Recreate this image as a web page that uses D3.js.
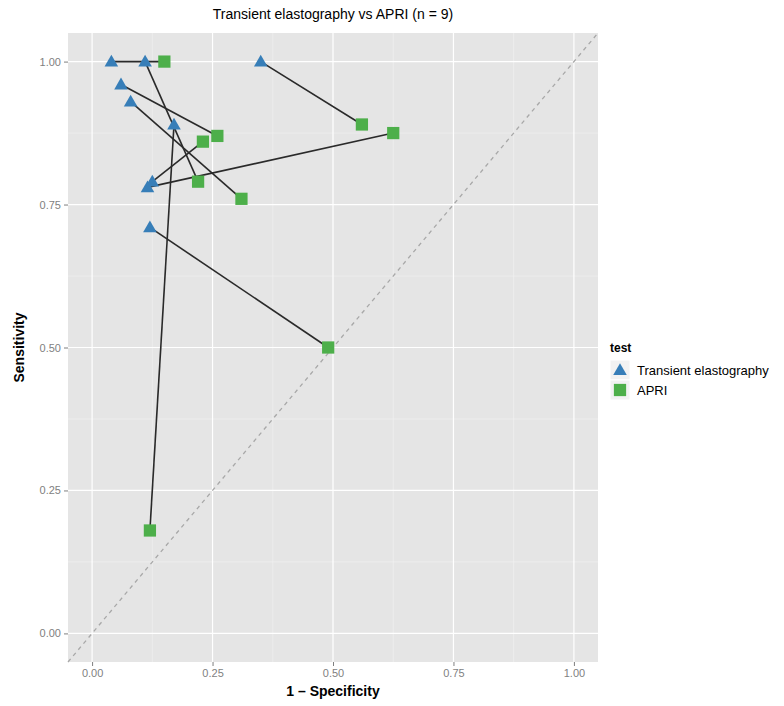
<!DOCTYPE html>
<html>
<head>
<meta charset="utf-8">
<script src="https://cdn.jsdelivr.net/npm/d3@7"></script>
<style>
  body { margin: 0; background: #fff; }
  text { font-family: "Liberation Sans", Arial, sans-serif; }
</style>
</head>
<body>
<script>
// one row per study: transient elastography (TE) and APRI, as 1 - specificity / sensitivity
const teFpr = [0.04, 0.11, 0.35, 0.06, 0.08, 0.17, 0.115, 0.125, 0.12];
const teSens = [1.00, 1.00, 1.00, 0.96, 0.93, 0.89, 0.78, 0.79, 0.71];
const apriFpr = [0.15, 0.22, 0.56, 0.26, 0.31, 0.12, 0.625, 0.23, 0.49];
const apriSens = [1.00, 0.79, 0.89, 0.87, 0.76, 0.18, 0.875, 0.86, 0.50];
const tests = ['Transient elastography', 'APRI'];
const ticks = [0, 0.25, 0.5, 0.75, 1];
const minorTicks = [0.125, 0.375, 0.625, 0.875];

const W = 784, H = 706;
const panel = { left: 68, right: 598, top: 33, bottom: 662 };
const colors = { 'Transient elastography': '#377EB8', 'APRI': '#4DAF4A' };

const svg = d3.select('body').append('svg')
    .attr('width', W)
    .attr('height', H);

const x = d3.scaleLinear().domain([-0.05, 1.05]).range([panel.left, panel.right]);
const y = d3.scaleLinear().domain([-0.05, 1.05]).range([panel.bottom, panel.top]);

//panel background
svg.append('rect')
    .attr('x', panel.left).attr('y', panel.top)
    .attr('width', panel.right - panel.left)
    .attr('height', panel.bottom - panel.top)
    .attr('fill', '#E5E5E5');

//grid
const grid = svg.append('g');
minorTicks.forEach((t) => {
    grid.append('line').attr('x1', x(t)).attr('x2', x(t)).attr('y1', panel.top).attr('y2', panel.bottom)
        .attr('stroke', '#F2F2F2').attr('stroke-width', 0.6);
    grid.append('line').attr('y1', y(t)).attr('y2', y(t)).attr('x1', panel.left).attr('x2', panel.right)
        .attr('stroke', '#F2F2F2').attr('stroke-width', 0.6);
});
ticks.forEach((t) => {
    grid.append('line').attr('x1', x(t)).attr('x2', x(t)).attr('y1', panel.top).attr('y2', panel.bottom)
        .attr('stroke', '#fff').attr('stroke-width', 1.2);
    grid.append('line').attr('y1', y(t)).attr('y2', y(t)).attr('x1', panel.left).attr('x2', panel.right)
        .attr('stroke', '#fff').attr('stroke-width', 1.2);
});

//chance diagonal
svg.append('line')
    .attr('x1', x(-0.05)).attr('y1', y(-0.05))
    .attr('x2', x(1.05)).attr('y2', y(1.05))
    .attr('stroke', '#A8A8A8').attr('stroke-width', 1.3)
    .attr('stroke-dasharray', '4,4');

//axes
const xaxis = d3.axisBottom(x).tickValues(ticks).tickFormat(d3.format('.2f')).tickSize(4).tickPadding(3);
const yaxis = d3.axisLeft(y).tickValues(ticks).tickFormat(d3.format('.2f')).tickSize(4).tickPadding(3);
const gx = svg.append('g').attr('transform', `translate(0,${panel.bottom})`).call(xaxis);
const gy = svg.append('g').attr('transform', `translate(${panel.left},0)`).call(yaxis);
[gx, gy].forEach((g) => {
    g.select('.domain').remove();
    g.selectAll('line').attr('stroke', '#7F7F7F');
    g.selectAll('text').attr('fill', '#7F7F7F').style('font-size', '11px');
});

//pair connectors
const pairs = teFpr.map((d, i) => ({ x1: d, y1: teSens[i], x2: apriFpr[i], y2: apriSens[i] }));
svg.append('g').selectAll('line').data(pairs).enter().append('line')
    .attr('x1', (d) => x(d.x1)).attr('y1', (d) => y(d.y1))
    .attr('x2', (d) => x(d.x2)).attr('y2', (d) => y(d.y2))
    .attr('stroke', '#2a2a2a').attr('stroke-width', 1.6);

//points
const tri = d3.symbol().type(d3.symbolTriangle).size(80);
const sq = d3.symbol().type(d3.symbolSquare).size(150);
svg.append('g').selectAll('path').data(apriFpr).enter().append('path')
    .attr('d', sq)
    .attr('transform', (d, i) => `translate(${x(d)},${y(apriSens[i])})`)
    .attr('fill', colors['APRI']);
svg.append('g').selectAll('path').data(teFpr).enter().append('path')
    .attr('d', tri)
    .attr('transform', (d, i) => `translate(${x(d)},${y(teSens[i]) + 1})`)
    .attr('fill', colors['Transient elastography']);

//titles
svg.append('text')
    .attr('x', (panel.left + panel.right) / 2).attr('y', 19)
    .attr('text-anchor', 'middle').style('font-size', '14px')
    .text('Transient elastography vs APRI (n = 9)');
svg.append('text')
    .attr('x', (panel.left + panel.right) / 2).attr('y', 696)
    .attr('text-anchor', 'middle').style('font-size', '14px').style('font-weight', 'bold')
    .text('1 \u2013 Specificity');
svg.append('text')
    .attr('transform', `translate(24,${(panel.top + panel.bottom) / 2}) rotate(-90)`)
    .attr('text-anchor', 'middle').style('font-size', '14px').style('font-weight', 'bold')
    .text('Sensitivity');

//legend
const legend = svg.append('g').attr('transform', 'translate(610,340)');
legend.append('text').attr('x', 0).attr('y', 12)
    .style('font-size', '12px').style('font-weight', 'bold').text('test');
tests.forEach((t, i) => {
    const g = legend.append('g').attr('transform', `translate(0,${20 + i * 20})`);
    g.append('rect').attr('width', 20).attr('height', 20).attr('fill', '#F2F2F2').attr('stroke', '#fff');
    g.append('path')
        .attr('d', i === 0 ? tri : sq)
        .attr('transform', `translate(10,${i === 0 ? 11 : 10})`)
        .attr('fill', colors[t]);
    g.append('text').attr('x', 27).attr('y', 14.5)
        .style('font-size', '13px').text(t);
});
</script>
</body>
</html>
